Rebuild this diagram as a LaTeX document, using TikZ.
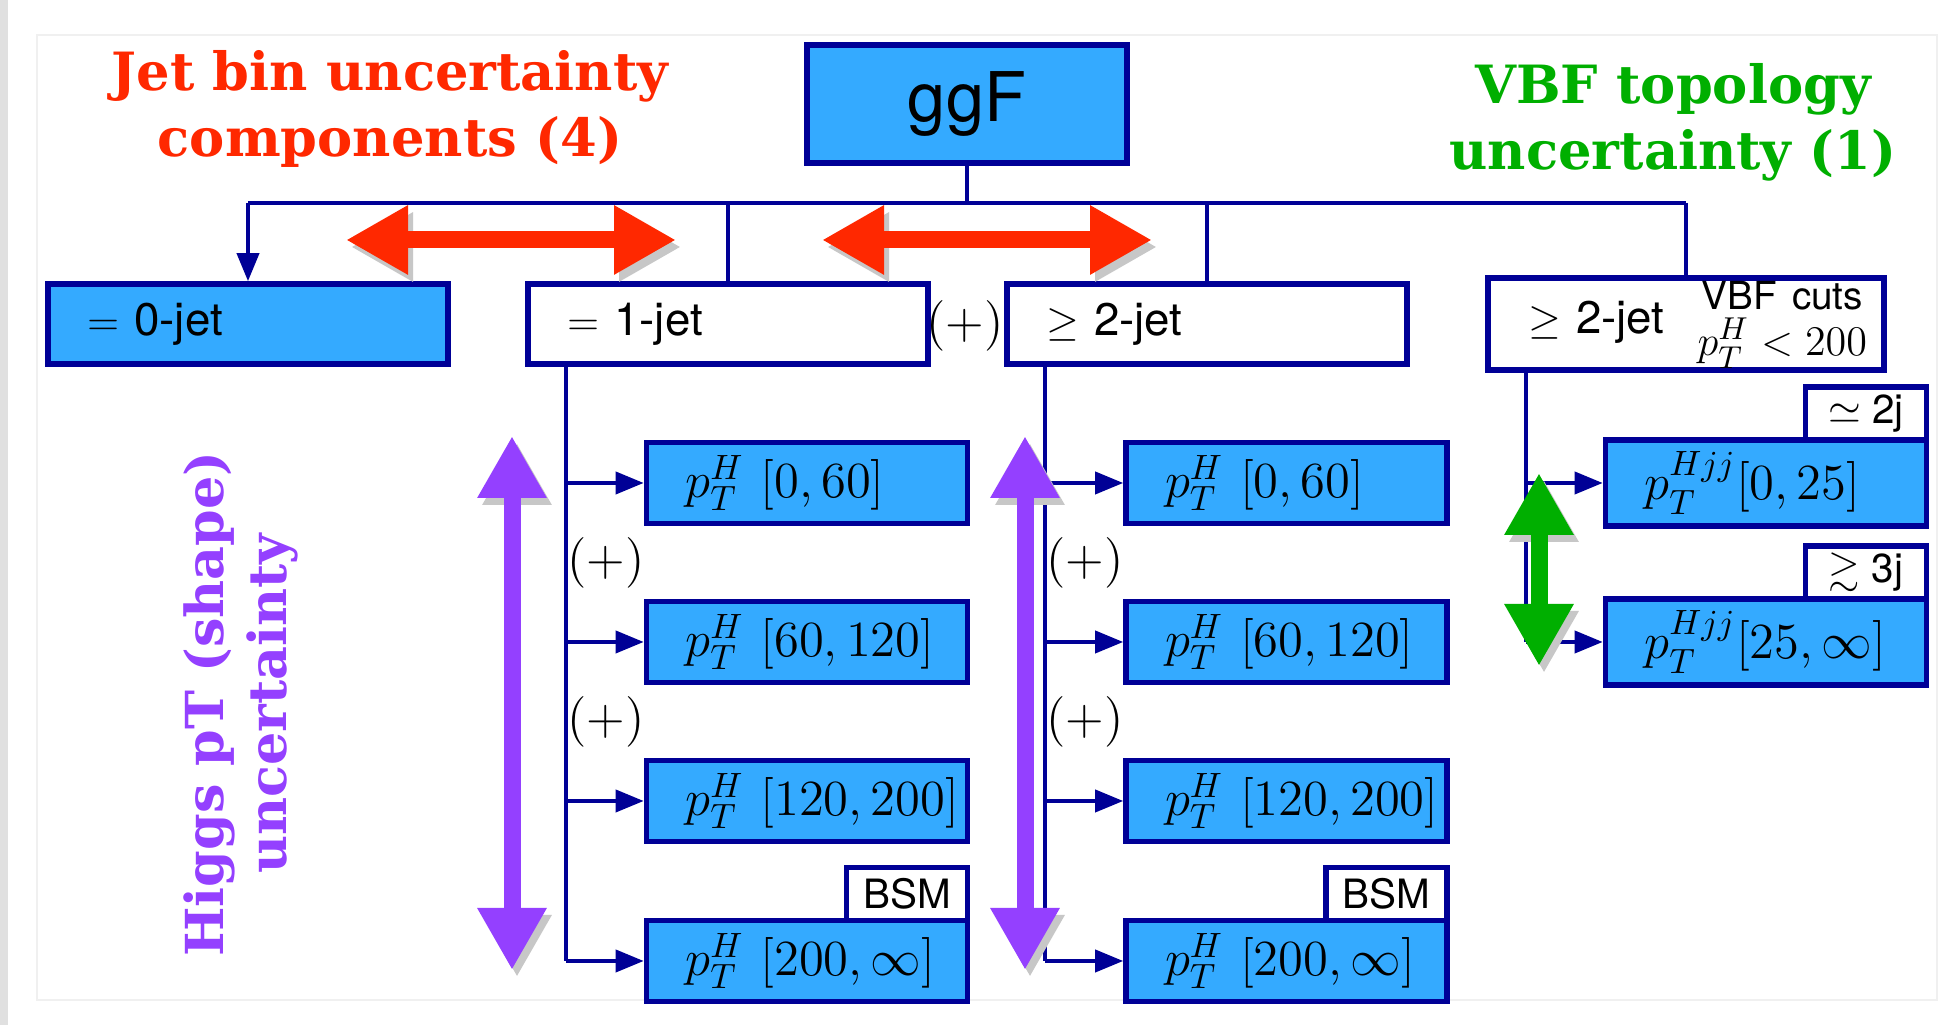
\documentclass[tikz,border=0pt]{standalone}
\usepackage{amssymb}
\usepackage{fontspec}
\setsansfont{TeX Gyre Heros}
\newfontfamily\headfont{DejaVu Serif}
\usetikzlibrary{arrows.meta}
\usetikzlibrary{positioning}

\definecolor{boxblue}{RGB}{52,170,255}
\definecolor{lineblue}{RGB}{0,0,150}
\definecolor{jetred}{RGB}{255,40,0}
\definecolor{vbfgreen}{RGB}{0,175,0}
\definecolor{higgspurple}{RGB}{148,64,255}

\begin{document}
\begin{tikzpicture}[node distance=2cm, auto]
\tikzstyle{prodbox} = [rectangle, minimum width=3.2cm, minimum height=1.18cm, text centered, draw=lineblue, line width=1.6pt, fill=boxblue, font=\fontsize{19.5}{21}\selectfont\sffamily]
\tikzstyle{jetbox} = [rectangle, text width=3.22cm, inner xsep=0.39cm, minimum height=0.8cm, align=left, draw=lineblue, line width=1.6pt, fill=white, font=\fontsize{13}{15}\selectfont\sffamily]
\tikzstyle{ptbox} = [rectangle, text width=2.43cm, inner xsep=0.39cm, minimum height=0.81cm, align=left, draw=lineblue, line width=1.6pt, fill=boxblue, font=\fontsize{14}{16}\selectfont]
\tikzstyle{tagbox} = [rectangle, minimum width=1.21cm, minimum height=0.53cm, inner sep=0pt, text centered, draw=lineblue, line width=1.6pt, fill=white, anchor=south east, font=\fontsize{11.5}{13}\selectfont\sffamily]
\tikzstyle{connect} = [draw=lineblue, line width=1.1pt]
\tikzstyle{connectarrow} = [connect, -{Triangle[length=0.28cm, width=0.22cm]}]
\tikzstyle{fatarrow} = [line width=0.17cm, {Triangle[length=0.62cm, width=0.65cm]}-{Triangle[length=0.62cm, width=0.65cm]}, preaction={draw=black!22, transform canvas={shift={(0.05,-0.07)}}}]
\tikzstyle{sumsign} = [inner sep=0pt, font=\fontsize{14}{16}\selectfont]
\tikzstyle{uncert} = [align=center, font=\headfont\bfseries\fontsize{15}{18.8}\selectfont]

% Page
\useasboundingbox (0,0) rectangle (19.53,10.25);
\fill[white] (0,0) rectangle (19.53,10.25);
\fill[black!12] (0,0) rectangle (0.08,10.25);
\draw[black!6, line width=0.6pt] (0.37,0.25) rectangle (19.37,9.9);

% Production mode
\node (ggf) [prodbox] at (9.67,9.21) {ggF};

% Jet bins
\node (jet0) [jetbox, fill=boxblue] at (2.48,7.01) {$=$ 0-jet};
\node (jet1) [jetbox] at (7.28,7.01) {$=$ 1-jet};
\node (jet2) [jetbox] at (12.07,7.01) {$\geq$ 2-jet};
\node (vbf) [jetbox, minimum height=0.92cm, inner ysep=0pt, text width=3.62cm, inner xsep=0.17cm] at (16.86,7.01) {\hspace*{0.23cm}$\geq$ 2-jet\hfill{\fontsize{11}{12}\selectfont\begin{tabular}{@{}c@{}}VBF cuts\\[-1pt]{\fontsize{12.5}{13}\selectfont$p_T^H<200$}\end{tabular}}};
\node (sum0) [sumsign] at (9.65,6.99) {$(+)$};

% Branches
\coordinate (bus) at (9.67,8.22);
\coordinate (branch0) at (2.48,8.22);
\coordinate (branch1) at (7.28,8.22);
\coordinate (branch2) at (12.07,8.22);
\coordinate (branch3) at (16.86,8.22);

% pT bins for = 1-jet
\node (pt1a) [ptbox] at (8.07,5.42) {\mbox{$p_T^H\ [0,60]$}};
\node (pt1b) [ptbox] at (8.07,3.83) {\mbox{$p_T^H\ [60,120]$}};
\node (pt1c) [ptbox] at (8.07,2.24) {\mbox{$p_T^H\ [120,200]$}};
\node (pt1d) [ptbox] at (8.07,0.64) {\mbox{$p_T^H\ [200,\infty]$}};
\node (bsm1) [tagbox] at ([yshift=-1.6pt]pt1d.north east) {BSM};
\node (sum1a) [sumsign] at (6.06,4.62) {$(+)$};
\node (sum1b) [sumsign] at (6.06,3.03) {$(+)$};

% pT bins for >= 2-jet
\node (pt2a) [ptbox] at (12.865,5.42) {\mbox{$p_T^H\ [0,60]$}};
\node (pt2b) [ptbox] at (12.865,3.83) {\mbox{$p_T^H\ [60,120]$}};
\node (pt2c) [ptbox] at (12.865,2.24) {\mbox{$p_T^H\ [120,200]$}};
\node (pt2d) [ptbox] at (12.865,0.64) {\mbox{$p_T^H\ [200,\infty]$}};
\node (bsm2) [tagbox] at ([yshift=-1.6pt]pt2d.north east) {BSM};
\node (sum2a) [sumsign] at (10.85,4.62) {$(+)$};
\node (sum2b) [sumsign] at (10.85,3.03) {$(+)$};

% pTHjj bins for VBF
\node (pv1) [ptbox] at (17.66,5.42) {\mbox{$p_T^{Hjj}[0,25]$}};
\node (pv2) [ptbox] at (17.66,3.83) {\mbox{$p_T^{Hjj}[25,\infty]$}};
\node (tag2j) [tagbox] at ([yshift=-1.6pt]pv1.north east) {$\simeq$ 2j};
\node (tag3j) [tagbox] at ([yshift=-1.6pt]pv2.north east) {$\gtrsim$ 3j};

% Trunks
\coordinate (trunk1) at ([xshift=0.41cm]jet1.south west);
\coordinate (trunk2) at ([xshift=0.41cm]jet2.south west);
\coordinate (trunk3) at ([xshift=0.41cm]vbf.south west);

% Uncertainty labels
\node (jetunc) [uncert, text=jetred] at (3.9,9.16) {Jet bin uncertainty\\components (4)};
\node (vbfunc) [uncert, text=vbfgreen] at (16.73,9.03) {VBF topology\\uncertainty (1)};
\node (higunc) [uncert, text=higgspurple, rotate=90, font=\headfont\bfseries\fontsize{14.9}{18}\selectfont] at (2.41,3.21) {Higgs pT (shape)\\uncertainty};

% Draws
% Lines from ggF to jet bins
\draw[connect] (ggf) -- (bus);
\draw[connect] (branch0) -- (branch3);
\draw[connectarrow] (branch0) -- (jet0);
\draw[connect] (branch1) -- (jet1);
\draw[connect] (branch2) -- (jet2);
\draw[connect] (branch3) -- (vbf);

% From jet bins to pT bins
\draw[connect] (trunk1) -- (trunk1 |- pt1d);
\draw[connectarrow] (trunk1 |- pt1a) -- (pt1a);
\draw[connectarrow] (trunk1 |- pt1b) -- (pt1b);
\draw[connectarrow] (trunk1 |- pt1c) -- (pt1c);
\draw[connectarrow] (trunk1 |- pt1d) -- (pt1d);

\draw[connect] (trunk2) -- (trunk2 |- pt2d);
\draw[connectarrow] (trunk2 |- pt2a) -- (pt2a);
\draw[connectarrow] (trunk2 |- pt2b) -- (pt2b);
\draw[connectarrow] (trunk2 |- pt2c) -- (pt2c);
\draw[connectarrow] (trunk2 |- pt2d) -- (pt2d);

\draw[connect] (trunk3) -- (trunk3 |- pv2);
\draw[connectarrow] (trunk3 |- pv1) -- (pv1);
\draw[connectarrow] (trunk3 |- pv2) -- (pv2);

% Uncertainty arrows
\coordinate (jeta) at (3.46,7.85);
\coordinate (jetb) at (6.76,7.85);
\coordinate (jetc) at (8.22,7.85);
\coordinate (jetd) at (11.52,7.85);
\coordinate (higa) at (5.12,5.89);
\coordinate (higb) at (5.12,0.55);
\coordinate (higc) at (10.25,5.89);
\coordinate (higd) at (10.25,0.55);
\coordinate (vbfa) at (15.39,5.52);
\coordinate (vbfb) at (15.39,3.59);

\draw[fatarrow, jetred] (jeta) -- (jetb);
\draw[fatarrow, jetred] (jetc) -- (jetd);
\draw[fatarrow, higgspurple] (higa) -- (higb);
\draw[fatarrow, higgspurple] (higc) -- (higd);
\draw[fatarrow, vbfgreen] (vbfa) -- (vbfb);
\end{tikzpicture}
\end{document}
